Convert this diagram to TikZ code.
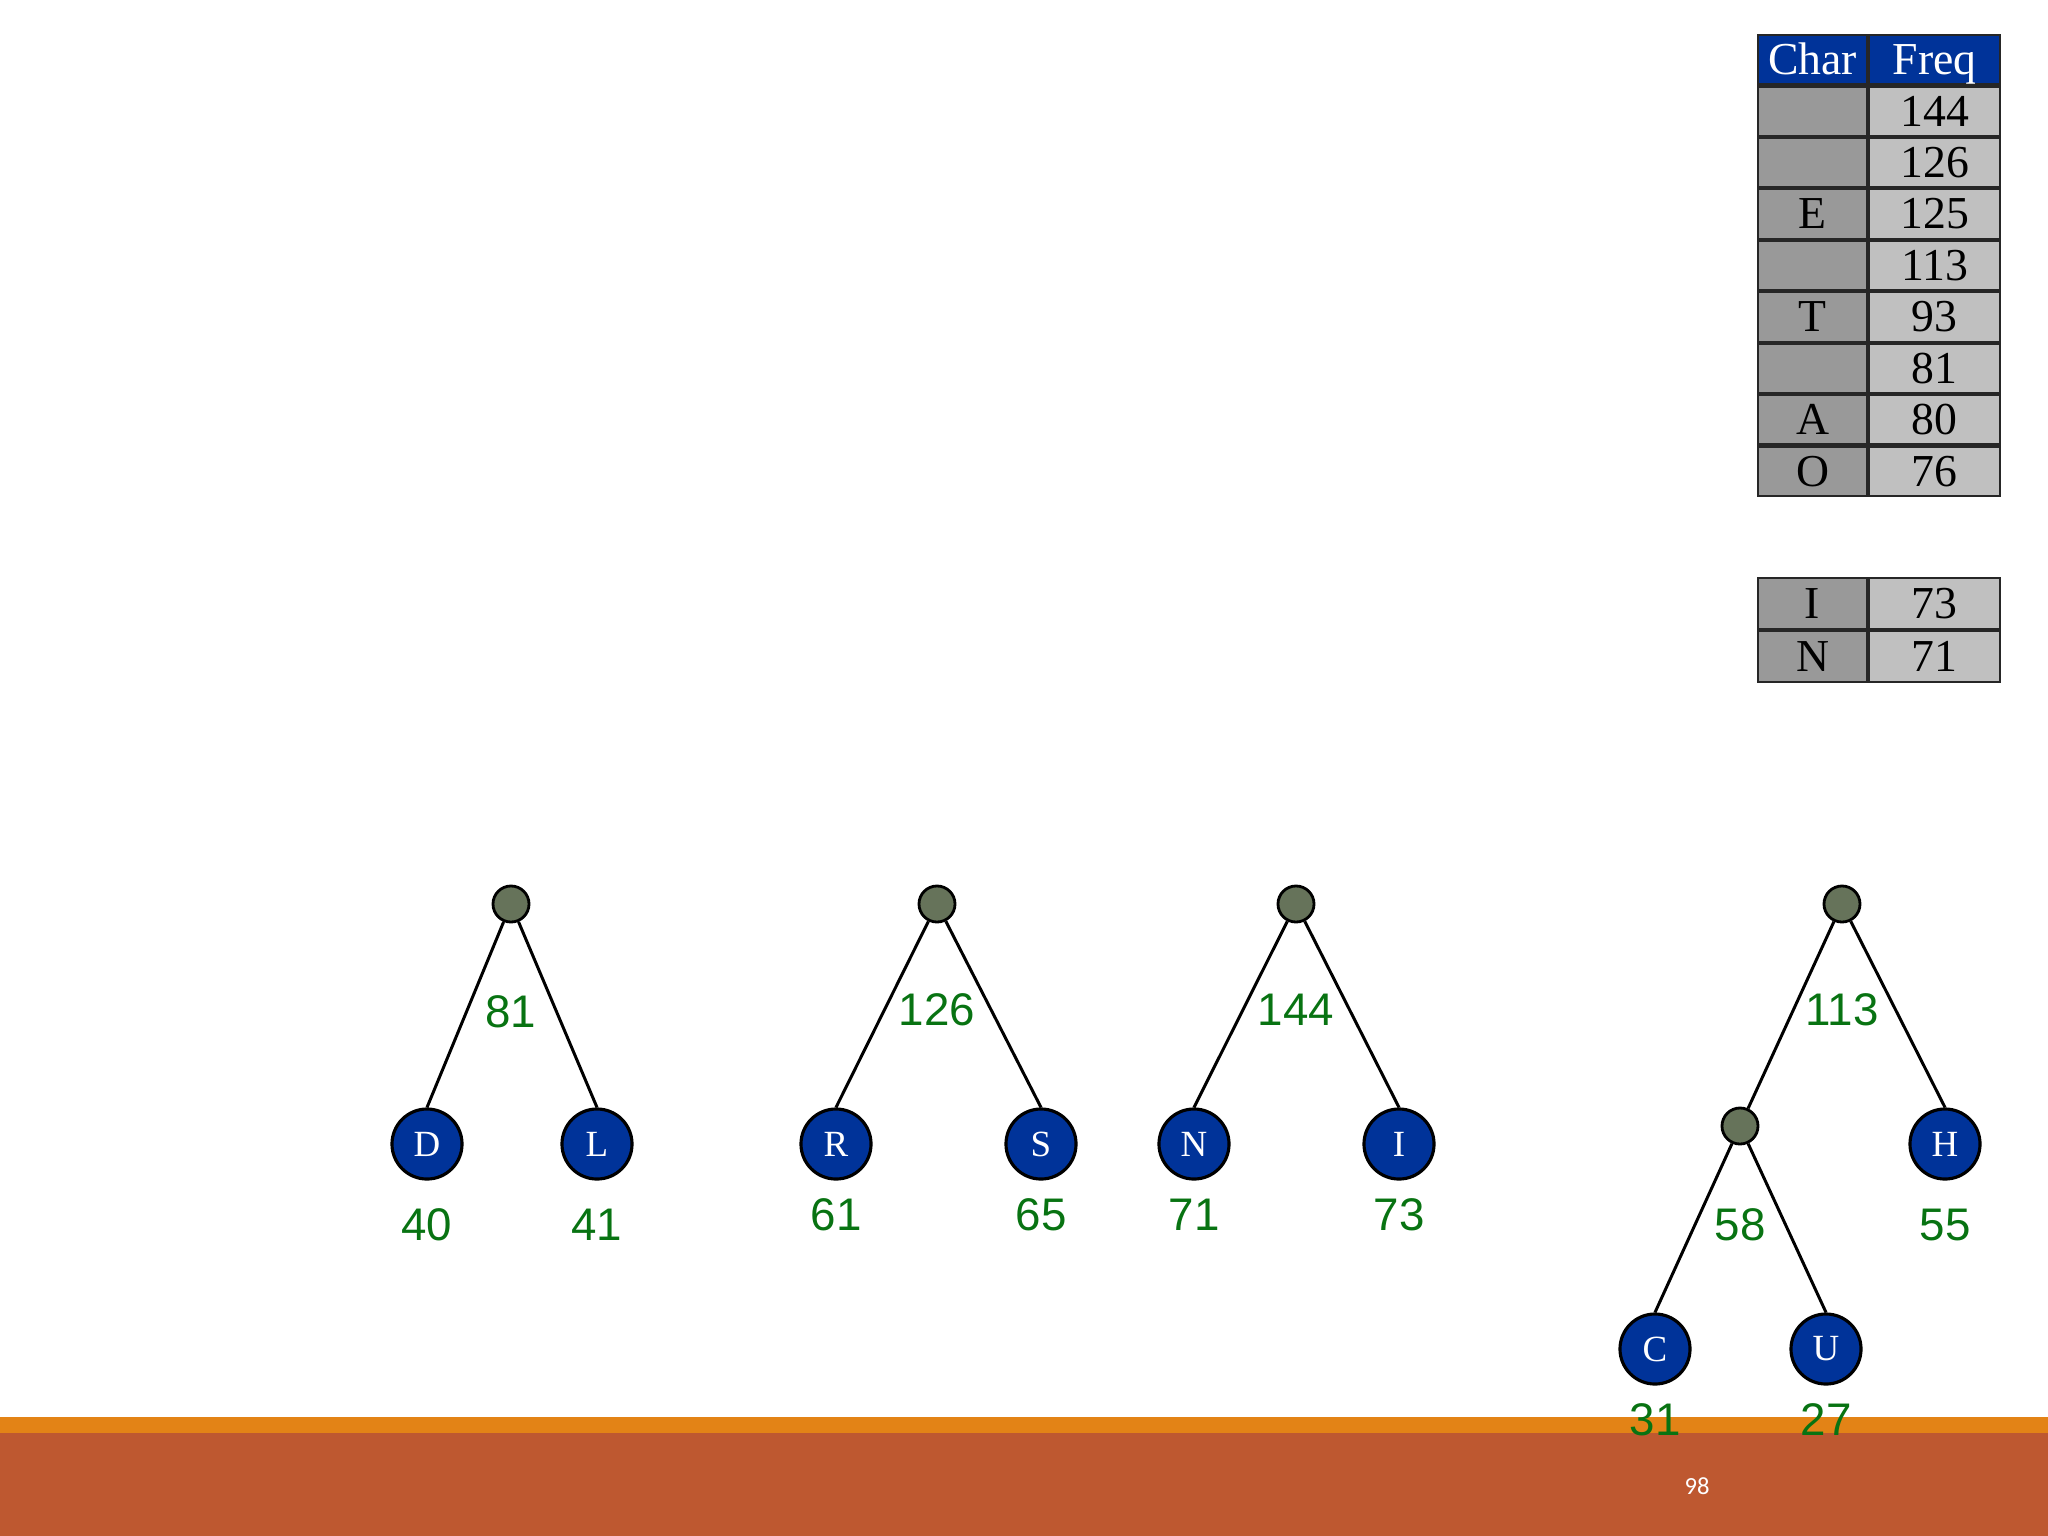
\documentclass[tikz,border=0pt]{standalone}
\usepackage{fontspec}
\setmainfont{Liberation Serif}
\newfontfamily\wtfont{Liberation Sans}
\newfontfamily\pgfont{Carlito}
\usepackage{tikz}
\usetikzlibrary{positioning}
\definecolor{hfblue}{RGB}{0,51,153}
\definecolor{hfinner}{RGB}{102,115,90}
\definecolor{hfgreen}{RGB}{8,115,18}
\definecolor{hfchar}{RGB}{153,153,153}
\definecolor{hffreq}{RGB}{192,192,192}
\definecolor{barorange}{RGB}{227,131,22}
\definecolor{barbrown}{RGB}{190,88,48}

\begin{document}
\begin{tikzpicture}[x=0.01cm, y=-0.01cm,
  leaf/.style={circle, draw=black, line width=0.9pt, fill=hfblue, minimum size=0.7cm, inner sep=0pt, text=white, font=\fontsize{10.5pt}{11pt}\selectfont},
  inner/.style={circle, draw=black, line width=0.8pt, fill=hfinner, minimum size=0.36cm, inner sep=0pt},
  wt/.style={text=hfgreen, inner sep=0pt, font=\wtfont\fontsize{13pt}{15pt}\selectfont},
  edge/.style={line width=0.85pt},
  cell/.style={rectangle, draw=black!85, line width=0.6pt, minimum height=0.493cm, inner sep=0pt, text height=8.8pt, text depth=0.3pt, font=\fontsize{13pt}{15pt}\selectfont},
  hdrcell/.style={cell, fill=hfblue, text=white},
  charcell/.style={cell, fill=hfchar, minimum width=1.09cm},
  freqcell/.style={cell, fill=hffreq, minimum width=1.31cm}
]
\useasboundingbox (0,0) rectangle (2048,1536);
% footer bar
\fill[barbrown] (0,1433) rectangle (2048,1536);
\fill[barorange] (0,1417) rectangle (2048,1433);
\node[text=white, font=\pgfont\fontsize{7pt}{8pt}\selectfont] (pagenum) at (1697,1486) {98};

% frequency table
\node[hdrcell, minimum width=1.09cm, anchor=north west] (hchar) at (1757,34) {Char};
\node[hdrcell, minimum width=1.31cm, right=0pt of hchar] (hfreq) {Freq};
\node[charcell, below=0pt of hchar] (c1) {};
\node[freqcell, right=0pt of c1] (f1) {144};
\node[charcell, below=0pt of c1] (c2) {};
\node[freqcell, right=0pt of c2] (f2) {126};
\node[charcell, below=0pt of c2] (c3) {E};
\node[freqcell, right=0pt of c3] (f3) {125};
\node[charcell, below=0pt of c3] (c4) {};
\node[freqcell, right=0pt of c4] (f4) {113};
\node[charcell, below=0pt of c4] (c5) {T};
\node[freqcell, right=0pt of c5] (f5) {93};
\node[charcell, below=0pt of c5] (c6) {};
\node[freqcell, right=0pt of c6] (f6) {81};
\node[charcell, below=0pt of c6] (c7) {A};
\node[freqcell, right=0pt of c7] (f7) {80};
\node[charcell, below=0pt of c7] (c8) {O};
\node[freqcell, right=0pt of c8] (f8) {76};
% remaining entries
\node[charcell, minimum height=0.51cm, anchor=north west] (ci) at (1757,577) {I};
\node[freqcell, minimum height=0.51cm, right=0pt of ci] (fi) {73};
\node[charcell, minimum height=0.51cm, below=0pt of ci] (cn) {N};
\node[freqcell, minimum height=0.51cm, right=0pt of cn] (fn) {71};

% tree 81
\node[inner] (r1) at (511,904) {};
\node[leaf] (d) at (427,1144) {D};
\node[leaf] (l) at (597,1144) {L};
\draw[edge] (r1) -- (d.north);
\draw[edge] (r1) -- (l.north);
\node[wt] (w81) at (511,1012) {81};
\node[wt] (w40) at (427,1225) {40};
\node[wt] (w41) at (597,1225) {41};

% tree 126
\node[inner] (r2) at (937,904) {};
\node[leaf] (r) at (836,1144) {R};
\node[leaf] (s) at (1041,1144) {S};
\draw[edge] (r2) -- (r.north);
\draw[edge] (r2) -- (s.north);
\node[wt] (w126) at (937,1010) {126};
\node[wt] (w61) at (836,1215) {61};
\node[wt] (w65) at (1041,1215) {65};

% tree 144
\node[inner] (r3) at (1296,904) {};
\node[leaf] (n) at (1194,1144) {N};
\node[leaf] (i) at (1399,1144) {I};
\draw[edge] (r3) -- (n.north);
\draw[edge] (r3) -- (i.north);
\node[wt] (w144) at (1296,1010) {144};
\node[wt] (w71) at (1194,1215) {71};
\node[wt] (w73) at (1399,1215) {73};

% tree 113
\node[inner] (r4) at (1842,904) {};
\node[inner] (m4) at (1740,1126) {};
\node[leaf] (h) at (1945,1144) {H};
\node[leaf] (c) at (1655,1349) {C};
\node[leaf] (u) at (1826,1349) {U};
\draw[edge] (r4) -- (m4);
\draw[edge] (r4) -- (h.north);
\draw[edge] (m4) -- (c.north);
\draw[edge] (m4) -- (u.north);
\node[wt] (w113) at (1842,1010) {113};
\node[wt] (w58) at (1740,1225) {58};
\node[wt] (w55) at (1945,1225) {55};
\node[wt] (w31) at (1655,1420) {31};
\node[wt] (w27) at (1826,1420) {27};
\end{tikzpicture}
\end{document}
